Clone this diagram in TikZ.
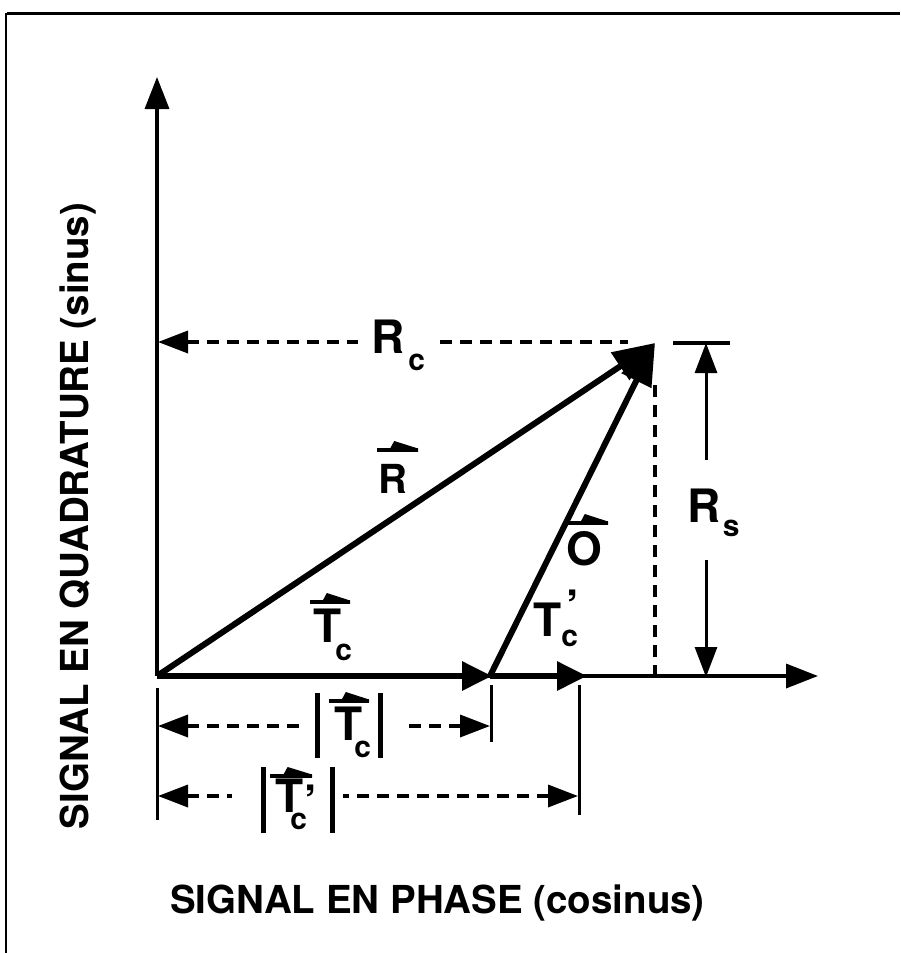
\documentclass[tikz,border=0pt]{standalone}
\usepackage{fontspec}
\setmainfont{TeX Gyre Heros}
\usetikzlibrary{arrows.meta}
\newcommand\subfont{\fontsize{30}{34}\selectfont}
\tikzset{
 big/.style={font=\fontsize{46}{50}\selectfont\bfseries, inner sep=0pt},
 mid/.style={font=\fontsize{40}{44}\selectfont\bfseries, inner sep=0pt},
 title/.style={font=\fontsize{38.5}{42}\selectfont\bfseries, inner sep=0pt},
 axisline/.style={line width=3.5pt, -{Triangle[length=32pt,width=24pt]}},
 vecline/.style={line width=6pt, -{Triangle[length=30pt,width=28pt]}},
 bigvec/.style={line width=6pt, -{Triangle[length=42pt,width=32pt]}},
 dimdash/.style={line width=3.5pt, dash pattern=on 12pt off 8pt},
 dimtip/.style={{Triangle[length=30pt,width=22pt]}-},
 ticks/.style={line width=3pt},
 barline/.style={line width=5pt},
}
\newcommand\harp[3]{%
 \fill (#1,#3-2) rectangle (#2,#3+2);
 \fill ({#1+0.3*(#2-#1)},#3) -- ({#1+0.42*(#2-#1)},#3-9) -- (#2,#3-1.5) -- (#2,#3+1.5) -- cycle;}
\begin{document}
\begin{tikzpicture}[x=1pt,y=-1pt]
\useasboundingbox (0,0) rectangle (900,953);
\fill[white] (0,0) rectangle (900,953);
% frame
\draw[line width=3pt] (7,13) -- (900,13);
\draw[line width=2pt] (6,13) -- (6,953);

% key points
\coordinate (O) at (157,676);
\coordinate (Ytop) at (157,77);
\coordinate (Xend) at (818,676);
\coordinate (Rtip) at (655,343);
\coordinate (Tend) at (492,676);
\coordinate (Tbase) at (490,676);
\coordinate (Tpend) at (587,676);

% axes
\draw[axisline] (O) -- (Ytop);
\draw[axisline] (O) -- (Xend);

% R_c dashed
\coordinate (RcL) at (158,342);
\coordinate (RcA) at (358,342);
\coordinate (RcB) at (440,342);
\coordinate (RcC) at (628,342);
\draw[dimdash, dimtip] (RcL) -- (RcA);
\draw[dimdash] (RcB) -- (RcC);
\node[big, anchor=base west] (Rc) at (371,353) {R\kern4pt\raisebox{-17pt}{\subfont c}};

% vertical dashed
\coordinate (VdT) at (655,385);
\coordinate (VdB) at (655,676);
\draw[dimdash] (VdT) -- (VdB);

% vectors
\draw[vecline] (O) -- (Tend);
\draw[vecline] (Tbase) -- (Tpend);
\draw[bigvec] (O) -- (Rtip);
\draw[bigvec] (Tbase) -- (Rtip);

% vector labels
\node[mid] (Rv) at (393,479) {R};
\harp{377}{418}{450}
\node[big] (Ov) at (584,549) {O};
\harp{568}{608}{523}
\node[big, anchor=base west] (Tc) at (313,642.5) {T\kern-6pt\raisebox{-17.5pt}{\subfont c}};
\harp{310}{350}{602}
\node[big, anchor=base west] (Tp) at (533,636.5) {T\kern0pt\rlap{\kern5pt\raisebox{13pt}{'}}\raisebox{-10pt}{\subfont c}};

% R_s dimension
\coordinate (RsBarL) at (673,343);
\coordinate (RsBarR) at (730,343);
\draw[line width=3.5pt] (RsBarL) -- (RsBarR);
\coordinate (RsT) at (706,343);
\coordinate (RsU) at (706,460);
\coordinate (RsD) at (706,560);
\coordinate (RsB) at (706,677);
\draw[line width=3pt, dimtip] (RsT) -- (RsU);
\draw[line width=3pt, dimtip] (RsB) -- (RsD);
\node[big, anchor=base west] (Rs) at (687,522) {R\kern2.5pt\raisebox{-14pt}{\subfont s}};

% dimension ticks
\coordinate (K1a) at (157,688); \coordinate (K1b) at (157,820);
\coordinate (K2a) at (491,685); \coordinate (K2b) at (491,742);
\coordinate (K3a) at (579,685); \coordinate (K3b) at (579,815);
\draw[ticks] (K1a) -- (K1b);
\draw[ticks] (K2a) -- (K2b);
\draw[ticks] (K3a) -- (K3b);

% |T_c|
\coordinate (D1L) at (158,726); \coordinate (D1A) at (302,726);
\coordinate (D1B) at (403,726); \coordinate (D1R) at (490,726);
\draw[dimdash, dimtip] (D1L) -- (D1A);
\draw[dimdash, dimtip] (D1R) -- (D1B);
\coordinate (B1a) at (317,693); \coordinate (B1b) at (317,758);
\coordinate (B2a) at (380,693); \coordinate (B2b) at (380,758);
\draw[barline] (B1a) -- (B1b);
\draw[barline] (B2a) -- (B2b);
\node[big, anchor=base west] (DT1) at (334,740) {T\kern-8pt\raisebox{-17.5pt}{\subfont c}};
\harp{329}{369}{701}

% |T_c'|
\coordinate (D2L) at (158,796); \coordinate (D2A) at (232,796);
\coordinate (D2B) at (343,796); \coordinate (D2R) at (578,796);
\draw[dimdash, dimtip] (D2L) -- (D2A);
\draw[dimdash, dimtip] (D2R) -- (D2B);
\coordinate (B3a) at (263,767); \coordinate (B3b) at (263,833);
\coordinate (B4a) at (332,767); \coordinate (B4b) at (332,833);
\draw[barline] (B3a) -- (B3b);
\draw[barline] (B4a) -- (B4b);
\node[big, anchor=base west] (DT2) at (275,812) {T\kern-13pt\rlap{\kern14pt\raisebox{-6pt}{'}}\raisebox{-17.5pt}{\subfont c}};
\harp{270}{312}{776}

% axis titles
\node[title, anchor=base] (xt) at (437.5,913) {SIGNAL EN PHASE (cosinus)};
\node[title, anchor=base, rotate=90] (yt) at (88,516) {SIGNAL EN QUADRATURE (sinus)};
\end{tikzpicture}
\end{document}
